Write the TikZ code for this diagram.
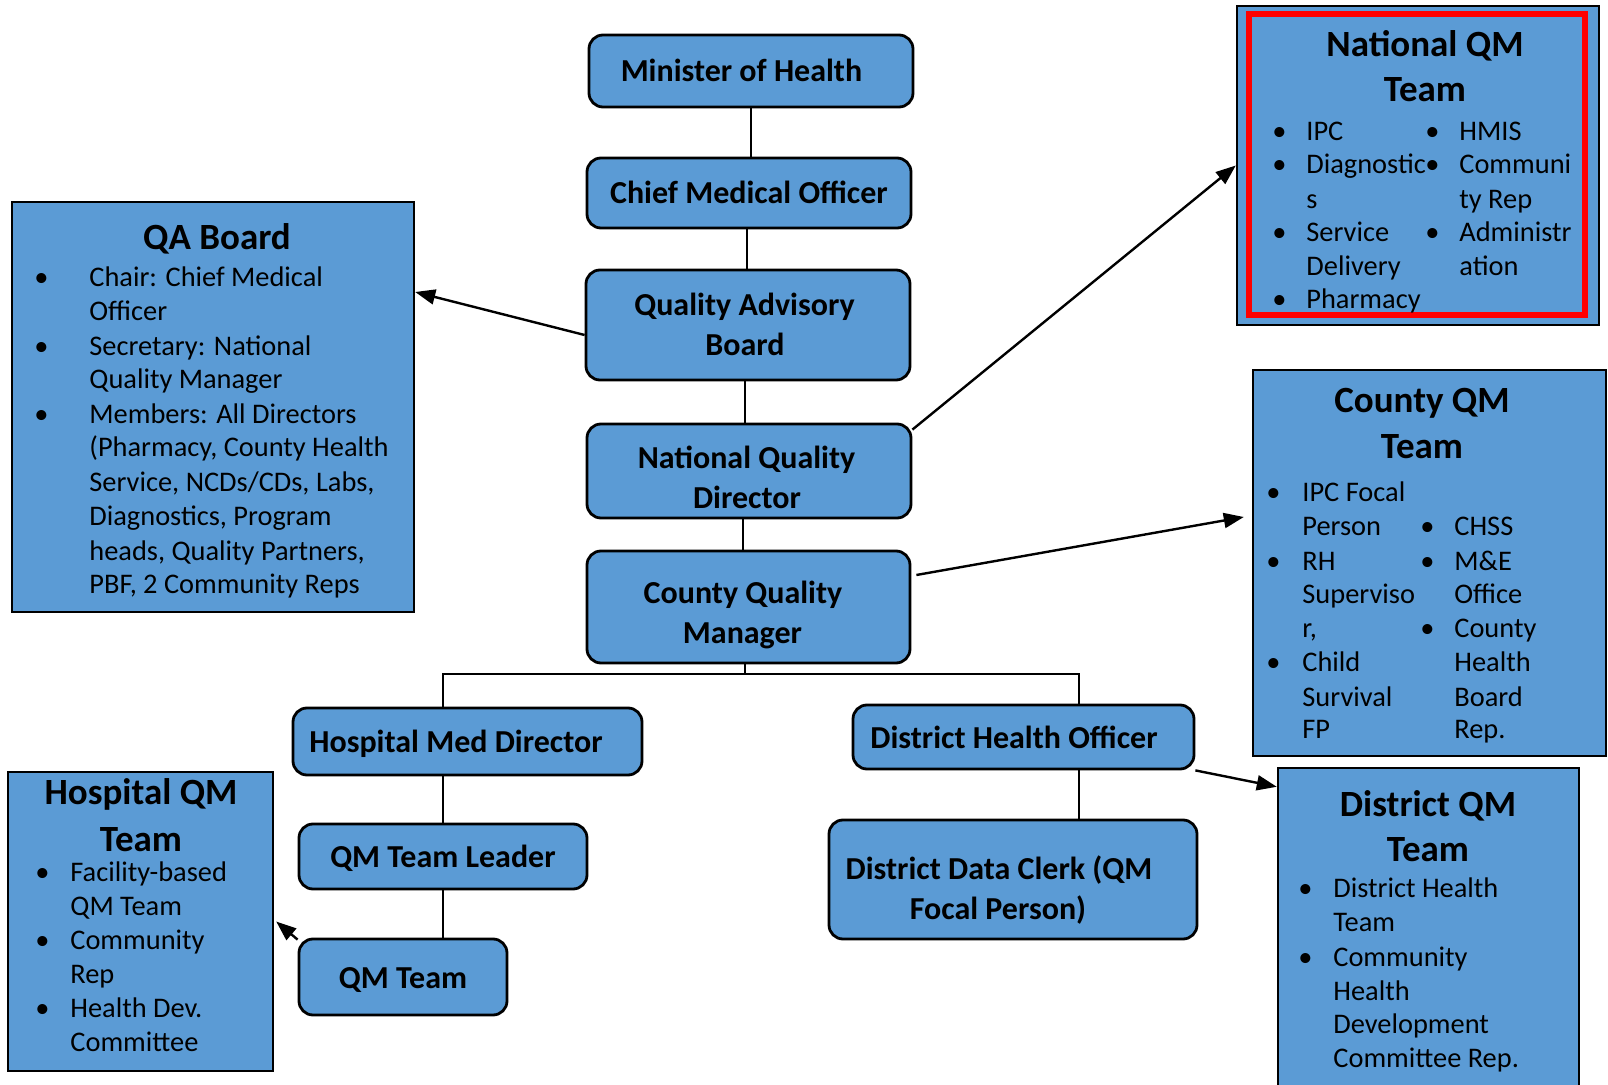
\documentclass[tikz,border=0pt]{standalone}
\usepackage{fontspec}
\setmainfont{Carlito}
\usepackage{xcolor}
\usetikzlibrary{arrows.meta, positioning}
\definecolor{boxblue}{RGB}{91,155,213}
\newcommand{\bul}[1]{\llap{\makebox[0pt]{\textbullet}\hspace{#1}}}

\begin{document}
\begin{tikzpicture}[
    x=0.5pt, y=-0.5pt,
    box/.style={draw, line width=1.4pt, rounded corners=7pt, fill=boxblue, inner sep=0pt, text height=11pt, text depth=0pt, font=\fontsize{16}{20}\selectfont\bfseries},
    boxline/.style={inner sep=0pt, text height=11pt, text depth=0pt, font=\fontsize{16}{20}\selectfont\bfseries},
    panel/.style={draw, line width=1.2pt, fill=boxblue, inner sep=0pt},
    title/.style={inner sep=0pt, text height=12pt, text depth=0pt, font=\fontsize{18.5}{22}\selectfont\bfseries},
    item/.style={anchor=west, inner sep=0pt, text height=9pt, text depth=0pt, font=\fontsize{14.2}{17}\selectfont},
    link/.style={line width=1pt},
    arr/.style={line width=1.2pt, -{Triangle[length=10pt, width=7.5pt]}}
]
    \useasboundingbox (0,0) rectangle (1608,1085);

    % chain of command
    \node[box, minimum width=162pt, minimum height=36pt] (moh) at (751,71) {Minister of Health\hspace*{9.5pt}};
    \node[box, minimum width=162pt, minimum height=35pt] (cmo) at (749,193) {Chief Medical Officer};
    \node[box, minimum width=162pt, minimum height=55pt] (qab) at (748,325) {};
    \node[boxline] (qabA) at (744.5,305) {Quality Advisory};
    \node[boxline] (qabB) at (745,345) {Board};
    \node[box, minimum width=162pt, minimum height=47pt] (nqd) at (749,471) {};
    \node[boxline] (nqdA) at (746.5,458) {National Quality};
    \node[boxline] (nqdB) at (747,498) {Director};
    \node[box, minimum width=161.5pt, minimum height=56pt] (cqm) at (748.5,607) {};
    \node[boxline] (cqmA) at (743,593) {County Quality};
    \node[boxline] (cqmB) at (742.5,633) {Manager};
    \node[box, minimum width=174.5pt, minimum height=33.5pt] (hmd) at (467.5,741.5) {Hospital Med Director\hspace*{11.5pt}};
    \node[box, minimum width=170.5pt, minimum height=32pt] (dho) at (1023.5,737) {District Health Officer\hspace*{9.5pt}};
    \node[box, minimum width=144pt, minimum height=32.5pt] (qtl) at (443,856.5) {QM Team Leader};
    \node[box, minimum width=104pt, minimum height=38pt] (qmt) at (403,977) {QM Team};
    \node[box, minimum width=184pt, minimum height=59.5pt] (ddc) at (1013,879.5) {};
    \node[boxline] (ddcA) at (999,868) {District Data Clerk (QM};
    \node[boxline] (ddcB) at (998,908) {Focal Person)};

    \draw[link] (moh.south) -- (moh.south |- cmo.north);
    \draw[link] (cmo.south -| 747,0) -- (qab.north -| 747,0);
    \draw[link] (qab.south -| 745,0) -- (nqd.north -| 745,0);
    \draw[link] (nqd.south -| 743,0) -- (cqm.north -| 743,0);
    \coordinate (busL) at (443,674);
    \coordinate (busR) at (1079,674);
    \draw[link] (cqm.south -| 745,0) -- (745,674);
    \draw[link] (hmd.north -| busL) -- (busL) -- (busR) -- (dho.north -| busR);
    \draw[link] (hmd.south -| qtl.north) -- (qtl.north);
    \draw[link] (qtl.south) -- (qtl.south |- qmt.north);
    \draw[link] (dho.south -| busR) -- (ddc.north -| busR);

    % QA Board
    \node[panel, minimum width=201pt, minimum height=205pt] (qaboard) at (213,407) {};
    \node[title] (qaT) at (217,238) {QA Board};
    \node[item] (qa1) at (89,278) {\bul{24pt}Chair: Chief Medical};
    \node[item] (qa2) at (89,312) {Officer};
    \node[item] (qa3) at (89,347) {\bul{24pt}Secretary: National};
    \node[item] (qa4) at (89,380) {Quality Manager};
    \node[item] (qa5) at (89,415) {\bul{24pt}Members: All Directors};
    \node[item] (qa6) at (89,448) {(Pharmacy, County Health};
    \node[item] (qa7) at (89,483) {Service, NCDs/CDs, Labs,};
    \node[item] (qa8) at (89,517) {Diagnostics, Program};
    \node[item] (qa9) at (89,552) {heads, Quality Partners,};
    \node[item] (qa10) at (89,585) {PBF, 2 Community Reps};

    % National QM Team
    \node[panel, minimum width=181pt, minimum height=159.5pt] (nqmt) at (1418,165.5) {};
    \node[draw=red, line width=3pt, minimum width=168.25pt, minimum height=150.5pt, inner sep=0pt] (nqmtRed) at (1416.75,165) {};
    \node[title] (nqT1) at (1425,45) {National QM};
    \node[title] (nqT2) at (1425,90) {Team};
    \node[item] (nq1) at (1306,132) {\bul{13.5pt}IPC};
    \node[item] (nq2) at (1306,165) {\bul{13.5pt}Diagnostic};
    \node[item] (nq3) at (1306,200) {s};
    \node[item] (nq4) at (1306,233) {\bul{13.5pt}Service};
    \node[item] (nq5) at (1306,267) {Delivery};
    \node[item] (nq6) at (1306,300) {\bul{13.5pt}Pharmacy};
    \node[item] (nq7) at (1459,132) {\bul{13.5pt}HMIS};
    \node[item] (nq8) at (1459,165) {\bul{13.5pt}Communi};
    \node[item] (nq9) at (1459,200) {ty Rep};
    \node[item] (nq10) at (1459,233) {\bul{13.5pt}Administr};
    \node[item] (nq11) at (1459,267) {ation};

    % County QM Team
    \node[panel, minimum width=176.5pt, minimum height=193pt] (cqmt) at (1429.5,563) {};
    \node[title] (cqT1) at (1422,401) {County QM};
    \node[title] (cqT2) at (1422,447) {Team};
    \node[item] (cq1) at (1302,493) {\bul{14.5pt}IPC Focal};
    \node[item] (cq2) at (1302,527) {Person};
    \node[item] (cq3) at (1302,562) {\bul{14.5pt}RH};
    \node[item] (cq4) at (1302,595) {Superviso};
    \node[item] (cq5) at (1302,629) {r,};
    \node[item] (cq6) at (1302,663) {\bul{14.5pt}Child};
    \node[item] (cq7) at (1302,697) {Survival};
    \node[item] (cq8) at (1302,730) {FP};
    \node[item] (cq9) at (1454,527) {\bul{13.5pt}CHSS};
    \node[item] (cq10) at (1454,562) {\bul{13.5pt}M\&E};
    \node[item] (cq11) at (1454,595) {Office};
    \node[item] (cq12) at (1454,629) {\bul{13.5pt}County};
    \node[item] (cq13) at (1454,663) {Health};
    \node[item] (cq14) at (1454,697) {Board};
    \node[item] (cq15) at (1454,730) {Rep.};

    % District QM Team
    \node[panel, minimum width=150.5pt, minimum height=165pt] (dqmt) at (1428.5,933) {};
    \node[title] (dqT1) at (1428,804) {District QM};
    \node[title] (dqT2) at (1428,849) {Team};
    \node[item] (dq1) at (1333,888) {\bul{14pt}District Health};
    \node[item] (dq2) at (1333,922) {Team};
    \node[item] (dq3) at (1333,957) {\bul{14pt}Community};
    \node[item] (dq4) at (1333,991) {Health};
    \node[item] (dq5) at (1333,1024) {Development};
    \node[item] (dq6) at (1333,1058) {Committee Rep.};

    % Hospital QM Team
    \node[panel, minimum width=132.5pt, minimum height=149.5pt] (hqmt) at (140.5,921.5) {};
    \node[title] (hqT1) at (141,793) {Hospital QM};
    \node[title] (hqT2) at (141,839) {Team};
    \node[item] (hq1) at (70,872) {\bul{14pt}Facility-based};
    \node[item] (hq2) at (70,906) {QM Team};
    \node[item] (hq3) at (70,940) {\bul{14pt}Community};
    \node[item] (hq4) at (70,974) {Rep};
    \node[item] (hq5) at (70,1008) {\bul{14pt}Health Dev.};
    \node[item] (hq6) at (70,1042) {Committee};

    % arrows to the teams
    \draw[arr] ([yshift=-5pt]qab.west) -- ([yshift=57.5pt]qaboard.east);
    \draw[arr] ([yshift=-3.5pt]nqd.north east) -- (nqmt.west);
    \draw[arr] ([xshift=2.5pt, yshift=16pt]cqm.east) -- ([xshift=-4pt, yshift=23pt]cqmt.west);
    \draw[arr] (dho.south east) -- ([yshift=-10pt]dqmt.north west);
    \draw[arr] ([yshift=-1pt]qmt.north west) -- ([xshift=1pt]hqmt.east);
\end{tikzpicture}
\end{document}
